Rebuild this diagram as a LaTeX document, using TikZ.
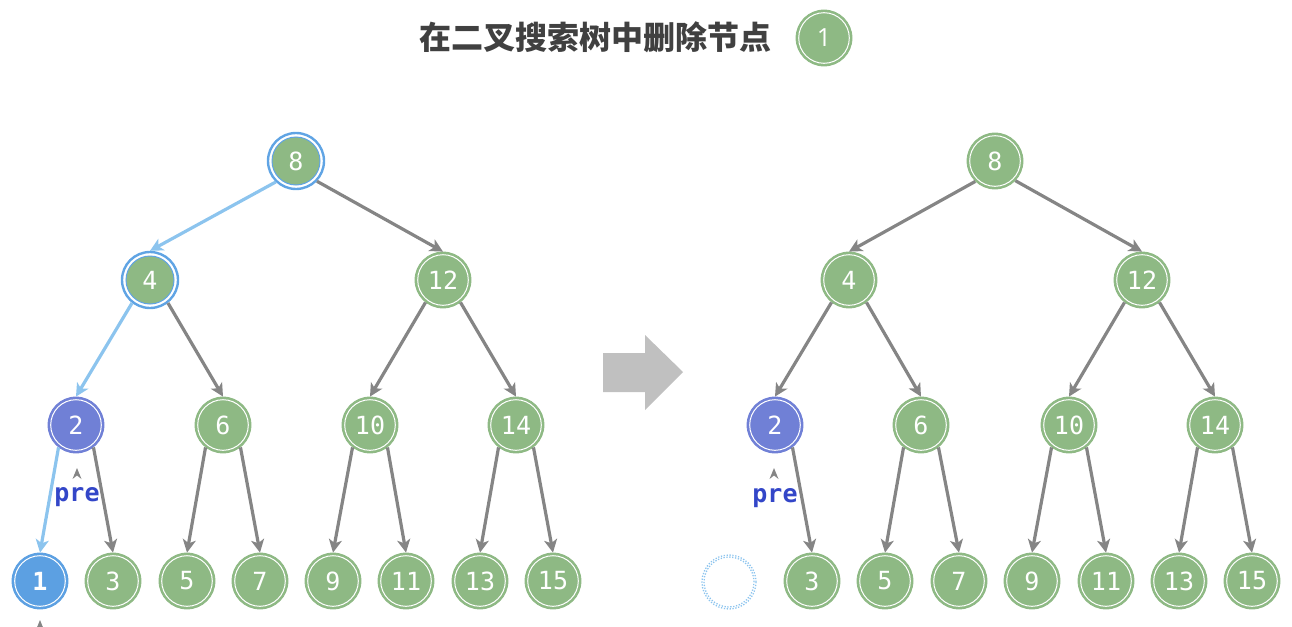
\documentclass[tikz,border=0pt]{standalone}
\usepackage{fontspec}
\usetikzlibrary{arrows.meta}
\newfontfamily\cjk{Noto Sans CJK SC}
\newfontfamily\numfont{DejaVu Sans Mono}
\newfontfamily\titlenum{Open Sans}
\definecolor{tgreen}{RGB}{142,185,132}
\definecolor{tpurple}{RGB}{112,128,214}
\definecolor{tblue}{RGB}{92,160,226}
\definecolor{lblue}{RGB}{140,196,238}
\definecolor{hlblue}{RGB}{96,164,228}
\definecolor{pretext}{RGB}{51,70,200}
\definecolor{tgray}{RGB}{133,133,133}
\definecolor{titlegray}{RGB}{64,64,64}
\definecolor{bigarrow}{RGB}{192,192,192}
\tikzset{
  tnode/.style={circle, minimum size=56pt, inner sep=0pt, fill=#1, draw=#1, line width=0.8pt,
    text=white, font=\numfont\fontsize{25}{28}\selectfont,
    path picture={\draw[white, line width=1pt] (path picture bounding box.center) circle (25.3pt);}},
  tnode/.default=tgreen,
  hlnode/.style={circle, minimum size=56pt, inner sep=0pt, fill=white, draw=hlblue, line width=2.4pt,
    text=white, font=\numfont\fontsize{25}{28}\selectfont,
    path picture={\fill[tgreen] (path picture bounding box.center) circle (24pt);
                  \draw[hlblue, line width=1pt] (path picture bounding box.center) circle (24pt);}},
  edge/.style={draw=tgray, line width=3.2pt, -{Stealth[length=13pt,width=13pt,inset=3.5pt]}},
  bedge/.style={edge, draw=lblue},
  prelabel/.style={text=pretext, font=\numfont\bfseries\fontsize{25}{27}\selectfont, inner sep=0pt},
  chev/.style={fill=tgray, draw=none},
}
\begin{document}
\begin{tikzpicture}[x=1pt,y=-1pt]
\useasboundingbox (0,0) rectangle (1292,626);
% title
\node[text=titlegray, font=\cjk\bfseries\fontsize{32}{36}\selectfont, inner sep=0pt] (title) at (595,37) {在二叉搜索树中删除节点};
\node[tnode, font=\titlenum\fontsize{25}{27}\selectfont] (tone) at (824,38) {1};

% ---------- left tree ----------
\node[hlnode] (l8) at (296,161) {8};
\node[hlnode] (l4) at (150,280) {4};
\node[tnode] (l12) at (443,280) {12};
\node[tnode=tpurple] (l2) at (76,425) {2};
\node[tnode] (l6) at (223,425) {6};
\node[tnode] (l10) at (370,425) {10};
\node[tnode] (l14) at (516,425) {14};
\node[tnode=tblue, font=\numfont\bfseries\fontsize{25}{28}\selectfont] (l1) at (40,581) {1};
\node[tnode] (l3) at (113,581) {3};
\node[tnode] (l5) at (187,581) {5};
\node[tnode] (l7) at (260,581) {7};
\node[tnode] (l9) at (333,581) {9};
\node[tnode] (l11) at (406,581) {11};
\node[tnode] (l13) at (480,581) {13};
\node[tnode] (l15) at (553,581) {15};

\draw[bedge] (l8.226) -- (l4.north);
\draw[edge] (l8.316) -- (l12.north);
\draw[bedge] (l4.232) -- (l2.north);
\draw[edge] (l4.308) -- (l6.north);
\draw[edge] (l12.232) -- (l10.north);
\draw[edge] (l12.308) -- (l14.north);
\draw[bedge] (l2.232) -- (l1.north);
\draw[edge] (l2.308) -- (l3.north);
\draw[edge] (l6.232) -- (l5.north);
\draw[edge] (l6.308) -- (l7.north);
\draw[edge] (l10.232) -- (l9.north);
\draw[edge] (l10.308) -- (l11.north);
\draw[edge] (l14.232) -- (l13.north);
\draw[edge] (l14.308) -- (l15.north);

\node[prelabel] (lpre) at (77,497) {pre};
\coordinate (lch) at (77,468);
\fill[chev] (lch) -- ++(4.5,11) -- ++(-4.5,-3.5) -- ++(-4.5,3.5) -- cycle;
\coordinate (lch2) at (40,620);
\fill[chev] (lch2) -- ++(4.5,11) -- ++(-4.5,-3.5) -- ++(-4.5,3.5) -- cycle;

% ---------- big arrow ----------
\fill[bigarrow] (603,353) -- (645,353) -- (645,335) -- (683,372) -- (645,410) -- (645,392) -- (603,392) -- cycle;

% ---------- right tree ----------
\node[tnode] (r8) at (995,161) {8};
\node[tnode] (r4) at (849,280) {4};
\node[tnode] (r12) at (1142,280) {12};
\node[tnode=tpurple] (r2) at (775,425) {2};
\node[tnode] (r6) at (921,425) {6};
\node[tnode] (r10) at (1069,425) {10};
\node[tnode] (r14) at (1215,425) {14};
\node[circle, minimum size=54pt, inner sep=0pt, draw=lblue, line width=1.3pt, dash pattern=on 1.3pt off 1.6pt] (rgone) at (729,582) {};
\node[circle, minimum size=50pt, inner sep=0pt, draw=lblue, line width=1.3pt, dash pattern=on 1.3pt off 1.6pt] (rgonein) at (729,582) {};
\node[tnode] (r3) at (812,581) {3};
\node[tnode] (r5) at (885,581) {5};
\node[tnode] (r7) at (959,581) {7};
\node[tnode] (r9) at (1032,581) {9};
\node[tnode] (r11) at (1106,581) {11};
\node[tnode] (r13) at (1179,581) {13};
\node[tnode] (r15) at (1252,581) {15};

\draw[edge] (r8.226) -- (r4.north);
\draw[edge] (r8.316) -- (r12.north);
\draw[edge] (r4.232) -- (r2.north);
\draw[edge] (r4.308) -- (r6.north);
\draw[edge] (r12.232) -- (r10.north);
\draw[edge] (r12.308) -- (r14.north);
\draw[edge] (r2.308) -- (r3.north);
\draw[edge] (r6.232) -- (r5.north);
\draw[edge] (r6.308) -- (r7.north);
\draw[edge] (r10.232) -- (r9.north);
\draw[edge] (r10.308) -- (r11.north);
\draw[edge] (r14.232) -- (r13.north);
\draw[edge] (r14.308) -- (r15.north);

\node[prelabel] (rpre) at (775,498) {pre};
\coordinate (rch) at (774,468);
\fill[chev] (rch) -- ++(4.5,11) -- ++(-4.5,-3.5) -- ++(-4.5,3.5) -- cycle;
\end{tikzpicture}
\end{document}
